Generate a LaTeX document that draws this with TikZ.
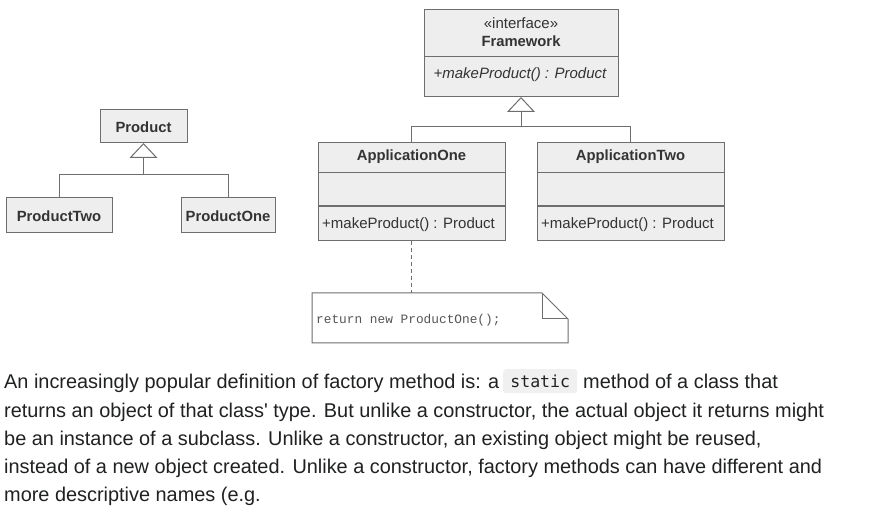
\documentclass[tikz,border=0pt]{standalone}
\usepackage{fontspec}
\setmainfont{Liberation Sans}
\newfontfamily\umlfont{Liberation Sans}
\newfontfamily\para{Liberation Sans}
\newfontfamily\codefont{DejaVu Sans Mono}
\newfontfamily\notefont{Liberation Mono}
\usetikzlibrary{arrows.meta}
\definecolor{bd}{HTML}{6E6E6E}
\definecolor{bg}{HTML}{EEEEEE}
\definecolor{tx}{HTML}{333333}
\definecolor{ntx}{HTML}{555555}
\definecolor{ptx}{HTML}{202122}
\definecolor{codebg}{HTML}{F0F0F0}
\tikzset{
  cls/.style={draw=bd, fill=bg, line width=1pt, inner sep=0pt, outer sep=0pt, anchor=north west},
  ttl/.style={text=tx, font=\umlfont\bfseries\fontsize{14.8}{16}\selectfont, inner sep=0pt},
  op/.style={text=tx, font=\umlfont\fontsize{15}{16}\selectfont, inner sep=0pt},
  wire/.style={draw=bd, line width=1pt},
  inh/.style={draw=bd, line width=1pt, -{Triangle[open, length=15pt, width=28pt, fill=white]}},
  ptext/.style={text=ptx, font=\para\fontsize{19.9}{23}\selectfont, inner sep=0pt, anchor=base west},
}
\begin{document}
\begin{tikzpicture}[x=1pt, y=-1pt]
\useasboundingbox (0,0) rectangle (879,510);
\fill[white] (0,0) rectangle (879,510);

% Framework
\node[cls, minimum width=194pt, minimum height=87pt] (fw) at (424,10) {};
\draw[wire] (fw.west |- 0,57) -- (fw.east |- 0,57);
\node[op] (fws) at (521,23) {«interface»};
\node[ttl] (fwn) at (521,41) {Framework};
\node[op, font=\umlfont\itshape\fontsize{15}{16}\selectfont] (fwo) at (520,75) {+makeProduct() : Product};

% ApplicationOne
\node[cls, minimum width=187pt, minimum height=98pt] (ao) at (318,143) {};
\draw[wire] (ao.west |- 0,173) -- (ao.east |- 0,173);
\draw[draw=bd, line width=1.8pt] (ao.west |- 0,206) -- (ao.east |- 0,206);
\node[ttl] (aon) at (411.5,157) {ApplicationOne};
\node[op, anchor=west] (aoo) at (322,224.5) {+makeProduct() : Product};

% ApplicationTwo
\node[cls, minimum width=187pt, minimum height=98pt] (at) at (537,143) {};
\draw[wire] (at.west |- 0,173) -- (at.east |- 0,173);
\draw[draw=bd, line width=1.8pt] (at.west |- 0,206) -- (at.east |- 0,206);
\node[ttl] (atn) at (630.5,157) {ApplicationTwo};
\node[op, anchor=west] (ato) at (541,224.5) {+makeProduct() : Product};

% inheritance to Framework
\coordinate (jf) at (521,127);
\draw[wire] (ao.north) |- (jf);
\draw[wire] (at.north) |- (jf);
\draw[inh] (jf) -- (fw.south);

% Product hierarchy
\node[cls, minimum width=87pt, minimum height=33pt] (pr) at (100,110) {};
\node[ttl] (prn) at (143.5,127) {Product};
\node[cls, minimum width=106pt, minimum height=35pt] (p2) at (6,198) {};
\node[ttl] (p2n) at (59,216) {ProductTwo};
\node[cls, minimum width=94pt, minimum height=35pt] (p1) at (181,198) {};
\node[ttl] (p1n) at (228,216) {ProductOne};
\coordinate (jp) at (143.5,175);
\draw[wire] (p2.north) |- (jp);
\draw[wire] (p1.north) |- (jp);
\draw[inh] (jp) -- (pr.south);

% Note
\node[inner sep=0pt, outer sep=0pt, minimum width=256pt, minimum height=50pt, anchor=north west] (note) at (312,293) {};
\draw[wire, fill=white] (note.north west) -- ([xshift=-26pt]note.north east) -- ([yshift=-26pt]note.north east) -- (note.south east) -- (note.south west) -- cycle;
\draw[wire] ([xshift=-26pt]note.north east) -- ([xshift=-26pt, yshift=-26pt]note.north east) -- ([yshift=-26pt]note.north east);
\node[anchor=west, inner sep=0pt, text=ntx, font=\notefont\fontsize{12.8}{14}\selectfont] (nt) at (316,320) {return new ProductOne();};
\draw[draw=bd, line width=1pt, dash pattern=on 4pt off 3pt] (ao.south) -- (ao.south |- note.north);

% Paragraph
\node[ptext] (l1a) at (4,389) {An increasingly popular definition of factory method is: a};
\node[fill=codebg, rounded corners=3pt, minimum width=74pt, minimum height=24pt, inner sep=0pt, anchor=north west] (st) at (503,369) {};
\node[text=ptx, font=\codefont\fontsize{16.5}{18}\selectfont, inner sep=0pt] (stt) at (st.center) {static};
\node[ptext] (l1b) at (583,389) {method of a class that};
\node[ptext] (l2) at (4,418) {returns an object of that class' type. But unlike a constructor, the actual object it returns might};
\node[ptext] (l3) at (4,446) {be an instance of a subclass. Unlike a constructor, an existing object might be reused,};
\node[ptext] (l4) at (4,474) {instead of a new object created. Unlike a constructor, factory methods can have different and};
\node[ptext] (l5) at (4,502) {more descriptive names (e.g.};
\end{tikzpicture}
\end{document}
